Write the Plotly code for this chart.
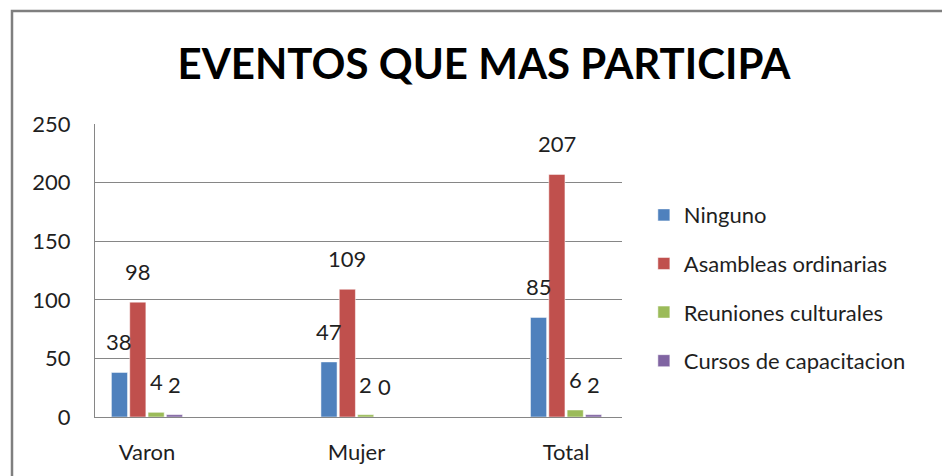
import plotly.graph_objects as go

categories = ["Varon", "Mujer", "Total"]
series_names = ["Ninguno", "Asambleas ordinarias", "Reuniones culturales", "Cursos de capacitacion"]
ninguno = [38, 47, 85]
asambleas = [98, 109, 207]
reuniones = [4, 2, 6]
cursos = [2, 0, 2]
series_values = [ninguno, asambleas, reuniones, cursos]
colors = ["#4F81BD", "#C0504D", "#9BBB59", "#8064A2"]
y_ticks = [0, 50, 100, 150, 200, 250]

W, H = 942, 476
ML, MR, MT, MB = 95, 320, 124, 59
plot_w = W - ML - MR
plot_h = H - MT - MB
x_range = [-0.248, 2.267]
bargap = 0.65
bargroupgap = 0.12
FONT = "Lato"
TXT = "#1F1F1F"

cat_px = plot_w / (x_range[1] - x_range[0])
slot_px = cat_px * (1 - bargap) / len(series_names)

fig = go.Figure()
for i, (name, vals, col) in enumerate(zip(series_names, series_values, colors)):
    fig.add_trace(go.Bar(
        x=categories, y=vals, name=name,
        marker=dict(color=col, line=dict(color="white", width=0.5)),
        legendgroup=name,
    ))

annotations = []
for i, vals in enumerate(series_values):
    shift = (i - (len(series_names) - 1) / 2) * slot_px
    for c, v in zip(categories, vals):
        annotations.append(dict(
            x=c, y=v, xref="x", yref="y", text=str(v), showarrow=False,
            xshift=shift, yshift=15, yanchor="bottom", xanchor="center",
            font=dict(family=FONT, size=22, color=TXT),
        ))

fig.update_layout(
    width=W, height=H,
    margin=dict(l=ML, r=MR, t=MT, b=MB, autoexpand=False),
    paper_bgcolor="white", plot_bgcolor="white",
    barmode="group", bargap=bargap, bargroupgap=bargroupgap,
    title=dict(text="<b>EVENTOS QUE MAS PARTICIPA</b>", xref="container", yref="container",
               x=484 / W, y=1 - 64 / H, xanchor="center", yanchor="middle",
               font=dict(family=FONT, size=42, color="black")),
    font=dict(family=FONT, size=22, color=TXT),
    showlegend=True,
    legend=dict(x=1.0415, y=0.44, xanchor="left", yanchor="middle",
                font=dict(family=FONT, size=22, color=TXT),
                tracegroupgap=17, bgcolor="rgba(0,0,0,0)"),
    xaxis=dict(range=x_range, showgrid=False, showline=True, linecolor="#868686", linewidth=1,
               ticks="", ticklabelstandoff=16, tickfont=dict(family=FONT, size=22, color=TXT)),
    yaxis=dict(range=[0, 250], tickvals=y_ticks, showgrid=True, gridcolor="#868686", gridwidth=1,
               showline=True, linecolor="#868686", linewidth=1, zeroline=False,
               ticks="", ticklabelstandoff=19, tickfont=dict(family=FONT, size=22, color=TXT)),
    annotations=annotations,
    shapes=[dict(type="rect", xref="paper", yref="paper",
                 x0=(12 - ML) / plot_w, x1=1.8, y0=-0.4, y1=(H - MB - 11) / plot_h,
                 line=dict(color="#7F7F7F", width=2.5), fillcolor="rgba(0,0,0,0)", layer="below")],
)

fig.write_html("out.html", config={"displayModeBar": False},
               post_script="document.body.style.margin='0';document.body.style.padding='0';")
